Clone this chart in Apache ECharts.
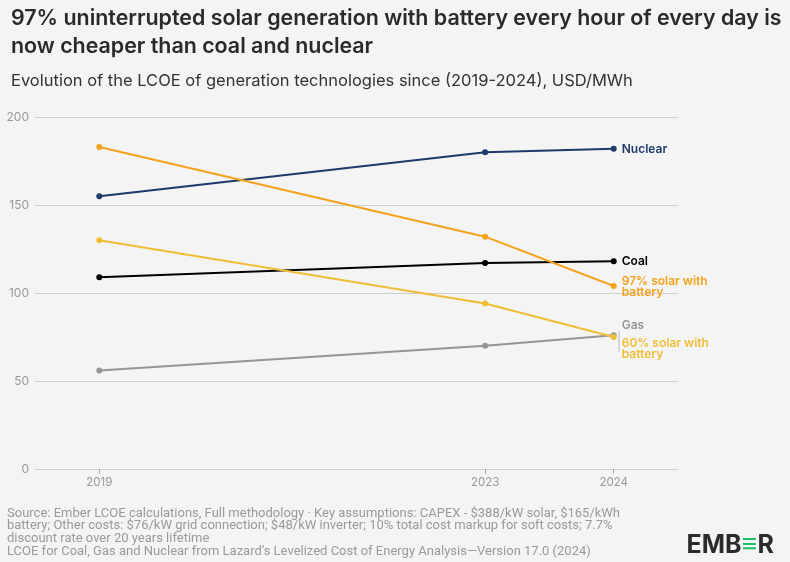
<!DOCTYPE html>
<html><head><meta charset="utf-8">
<script src="https://cdn.jsdelivr.net/npm/echarts@6/dist/echarts.min.js"></script>
<style>html,body{margin:0;padding:0;background:#f4f4f4}#c{width:790px;height:562px}</style>
</head><body><div id="c"></div>
<script>
const years = ['2019', '', '', '2023', '2024'];
const nuclear = [155, null, null, 180, 182];
const solar97 = [183, null, null, 132, 104];
const coal = [109, null, null, 117, 118];
const solar60 = [130, null, null, 94, 75];
const gas = [56, null, null, 70, 76];
const yTicks = [0, 50, 100, 150, 200];

const chart = echarts.init(document.getElementById('c'), null, {renderer: 'canvas'});
function mk(name, data, color, label, offset, z) {
  return {
    name, type: 'line', data, connectNulls: true, symbol: 'circle', symbolSize: 6,
    z: z || 2,
    lineStyle: {color, width: 2}, itemStyle: {color},
    endLabel: {show: true, formatter: label, color, fontFamily: 'Inter', fontSize: 12,
      fontWeight: 600, lineHeight: 11, offset: offset || [0, 0], distance: 8},
    emphasis: {disabled: true}
  };
}
chart.setOption({
  backgroundColor: '#f4f4f4',
  animation: false,
  title: [
    {text: '97% uninterrupted solar generation with battery every hour of every day is\nnow cheaper than coal and nuclear',
     left: 6, top: 0, textStyle: {fontFamily: 'Inter', fontSize: 21.4, fontWeight: 600, color: '#2a2a2a', lineHeight: 28}},
    {text: 'Evolution of the LCOE of generation technologies since (2019-2024), USD/MWh',
     left: 6, top: 65, textStyle: {fontFamily: 'Inter', fontSize: 16.5, fontWeight: 400, color: '#333', lineHeight: 22}}
  ],
  grid: {left: 35, right: 112, top: 117, bottom: 93, containLabel: false},
  xAxis: {
    type: 'category', data: years, boundaryGap: true,
    axisLine: {show: false},
    axisTick: {show: true, alignWithLabel: true, interval: (i, v) => v !== '', length: 5, lineStyle: {color: '#aaa'}},
    axisLabel: {interval: (i, v) => v !== '', color: '#999', fontFamily: 'Inter', fontSize: 11.5, margin: 8},
    splitLine: {show: false}
  },
  yAxis: {
    type: 'value', min: 0, max: 200, interval: 50,
    axisLabel: {color: '#999', fontFamily: 'Inter', fontSize: 12, margin: 6,
      formatter: v => yTicks.includes(v) ? String(v) : ''},
    axisLine: {show: false}, axisTick: {show: false},
    splitLine: {lineStyle: {color: '#cfcfcf', width: 1}}
  },
  series: [
    mk('Nuclear', nuclear, '#1d3a6b', 'Nuclear', [0, 1], 3),
    mk('97% solar with battery', solar97, '#f5a21d', '97% solar with\nbattery', [0, 1], 4),
    mk('Coal', coal, '#000000', 'Coal', [0, 0], 3),
    mk('60% solar with battery', solar60, '#f0be36', '60% solar with\nbattery', [0, 12], 4),
    mk('Gas', gas, '#959595', 'Gas', [0, -10], 3)
  ],
  graphic: [
    {type: 'line', shape: {x1: 619, y1: 331, x2: 619, y2: 352}, style: {stroke: '#bbb', lineWidth: 1}},
    {type: 'text', left: 7, top: 507, style: {
      text: 'Source: Ember LCOE calculations, Full methodology · Key assumptions: CAPEX - $388/kW solar, $165/kWh\nbattery; Other costs: $76/kW grid connection; $48/kW inverter; 10% total cost markup for soft costs; 7.7%\ndiscount rate over 20 years lifetime\nLCOE for Coal, Gas and Nuclear from Lazard\u2019s Levelized Cost of Energy Analysis\u2014Version 17.0 (2024)',
      fill: '#9a9a9a', font: '13px "Roboto"', lineHeight: 12.7}},
    {type: 'text', right: 16, top: 531, style: {
      text: '{a|EMB}{b|\u2261}{a|R}',
      rich: {a: {font: 'bold 25px "Inter"', fill: '#2b2b2b'}, b: {font: 'bold 28px "Inter"', fill: '#1fbf6a'}}}}
  ]
});
</script></body></html>
